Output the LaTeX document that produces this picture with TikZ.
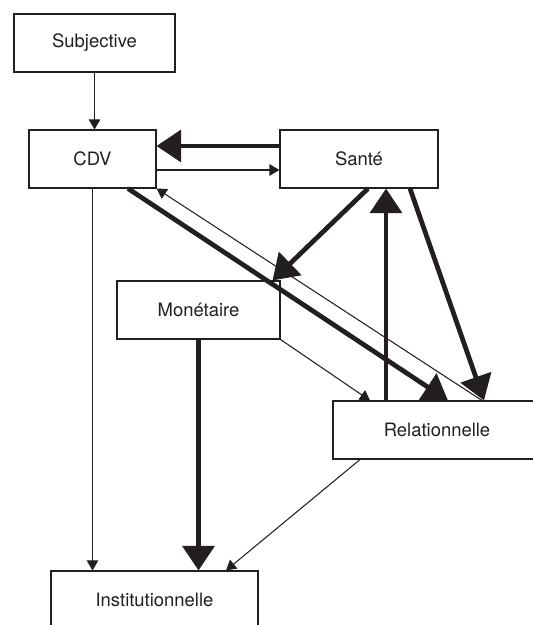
\documentclass[tikz,border=0pt]{standalone}
\usepackage{fontspec}
\setmainfont{TeX Gyre Heros}
\usepackage{tikz}
\usetikzlibrary{arrows.meta}
\definecolor{tr}{HTML}{231f20}

\begin{document}
\begin{tikzpicture}[x=0.02cm,y=-0.02cm]
            \tikzstyle{every node}=[font=\fontsize{10.5}{12}\selectfont,text=tr]
            \tikzstyle{boite}=[draw=tr,line width=0.6pt,fill=white,minimum height=1.16cm,inner sep=0pt]
            \tikzstyle{fin}=[draw=tr,line width=0.6pt,-{Triangle[length=5.7pt,width=6.5pt]}]
            \tikzstyle{gros}=[draw=tr,line width=2.7pt,-{Triangle[length=14pt,width=18pt]}]
            \useasboundingbox (0,0) rectangle (533,625);
            \node[boite,minimum width=3.22cm] (subj) at (94.5,43) {Subjective};
            \node[boite,minimum width=2.54cm] (cdv) at (92.5,159) {CDV};
            \node[boite,minimum width=3.16cm] (sante) at (359,159) {Santé};
            \node[boite,minimum width=3.26cm] (mon) at (198.5,310) {Monétaire};
            \node[boite,minimum width=4.16cm] (rel) at (437,430) {Relationnelle};
            \node[boite,minimum width=4.14cm] (inst) at (154.5,600) {Institutionnelle};
            \draw[fin] (subj.south) -- (subj.south |- cdv.north);
            \draw[gros] ([yshift=0.26cm]sante.west) -- ([yshift=0.26cm]sante.west -| cdv.east);
            \draw[fin] ([yshift=-0.22cm]cdv.east) -- ([yshift=-0.22cm]cdv.east -| sante.west);
            \draw[fin] (cdv.south) -- (cdv.south |- inst.north);
            \draw[gros] ([xshift=0.71cm]cdv.south) -- ([xshift=0.22cm]rel.north);
            \draw[fin] ([xshift=0.9cm]rel.north) -- (cdv.south east);
            \draw[gros] ([xshift=0.18cm]sante.south) -- ([xshift=-0.16cm]mon.north east);
            \draw[gros] ([xshift=1.02cm]sante.south) -- ([xshift=0.94cm]rel.north);
            \draw[gros] ([xshift=-1.02cm]rel.north) -- ([xshift=-1.02cm]rel.north |- sante.south);
            \draw[fin] (mon.south east) -- ([xshift=-1.34cm]rel.north);
            \draw[gros] (mon.south) -- (mon.south |- inst.north);
            \draw[fin] ([xshift=-1.54cm]rel.south) -- ([xshift=1.43cm]inst.north);
          \end{tikzpicture}
\end{document}
